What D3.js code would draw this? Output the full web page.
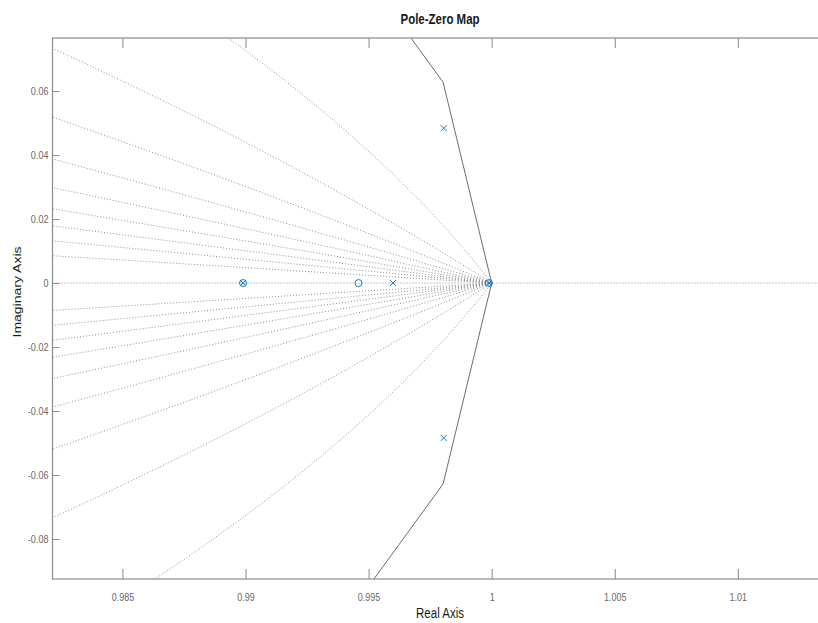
<!DOCTYPE html>
<html>
<head>
<meta charset="utf-8">
<script src="https://cdn.jsdelivr.net/npm/d3@7"></script>
<style>
  html, body { margin: 0; padding: 0; background: #ffffff; }
  svg { display: block; }
  text { font-family: "Liberation Sans", Arial, sans-serif; }
</style>
</head>
<body>
<svg id="chart" width="818" height="623"></svg>
<script>
// ---- data ----
const titleText = "Pole-Zero Map";
const xLabel = "Real Axis";
const yLabel = "Imaginary Axis";
const xTicks = [0.985, 0.99, 0.995, 1, 1.005, 1.01];
const xTickLabels = ["0.985", "0.99", "0.995", "1", "1.005", "1.01"];
const yTicks = [0.06, 0.04, 0.02, 0, -0.02, -0.04, -0.06, -0.08];
const yTickLabels = ["0.06", "0.04", "0.02", "0", "-0.02", "-0.04", "-0.06", "-0.08"];
const xDomain = [0.98216, 1.01367];
const yDomain = [-0.0925, 0.0766];
// poles (x)
const poleRe = [0.9899, 0.99599, 0.99989, 0.99805, 0.99805];
const poleIm = [0, 0, 0, 0.0484, -0.0484];
// zeros (o)
const zeroRe = [0.9899, 0.99459, 0.99989];
const zeroIm = [0, 0, 0];
// z-grid damping ratios
const dampingRatios = [0.1, 0.2, 0.3, 0.4, 0.5, 0.6, 0.7, 0.8, 0.9];
// unit circle drawn as a polygon with this many segments
const circleSegments = 100;

// ---- layout ----
const svg = d3.select("#chart");
const pLeft = 52.5, pRight = 828.2, pTop = 38, pBottom = 579;
const squeeze = 0.82;

const x = d3.scaleLinear().domain(xDomain).range([pLeft, pRight]);
const y = d3.scaleLinear().domain(yDomain).range([pBottom, pTop]);

svg.append("defs").append("clipPath").attr("id", "plotclip")
  .append("rect").attr("x", pLeft).attr("y", pTop)
  .attr("width", pRight - pLeft).attr("height", pBottom - pTop);

const plot = svg.append("g").attr("clip-path", "url(#plotclip)");

const line = d3.line().x(d => x(d[0])).y(d => y(d[1]));

// damping ratio lines
const omegas = d3.range(0, 3000).map(i => i * Math.PI / 2999);
dampingRatios.forEach(z => {
  const wd = Math.sqrt(1 - z * z);
  [1, -1].forEach(sgn => {
    const pts = omegas.map(w => {
      const m = Math.exp(-z * w);
      return [m * Math.cos(wd * w), sgn * m * Math.sin(wd * w)];
    });
    plot.append("path").attr("d", line(pts))
      .attr("fill", "none").attr("stroke", "#8f8f8f")
      .attr("stroke-width", 1).attr("stroke-dasharray", "1,2");
  });
});
// real axis (zeta = 1 and beyond)
plot.append("line")
  .attr("x1", pLeft).attr("x2", pRight)
  .attr("y1", y(0)).attr("y2", y(0))
  .attr("stroke", "#8f8f8f").attr("stroke-width", 1).attr("stroke-dasharray", "1,2");

// unit circle polygon
const circPts = d3.range(-4, 5).map(k => {
  const a = 2 * Math.PI * k / circleSegments;
  return [Math.cos(a), Math.sin(a)];
});
plot.append("path").attr("d", line(circPts))
  .attr("fill", "none").attr("stroke", "#6e6e6e").attr("stroke-width", 1);

// markers
const mColor = "#1a7ac4";
zeroRe.forEach((re, i) => {
  plot.append("circle").attr("cx", x(re)).attr("cy", y(zeroIm[i])).attr("r", 3.5)
    .attr("fill", "none").attr("stroke", mColor).attr("stroke-width", 1);
});
poleRe.forEach((re, i) => {
  const cx = x(re), cy = y(poleIm[i]), s = 3;
  plot.append("path")
    .attr("d", `M${cx - s},${cy - s}L${cx + s},${cy + s}M${cx - s},${cy + s}L${cx + s},${cy - s}`)
    .attr("fill", "none").attr("stroke", mColor).attr("stroke-width", 1);
});

// axes
const axisColor = "#8a8a8a";
const labelColor = "#6a6a6a";

const gx = svg.append("g").attr("transform", `translate(0,${pBottom})`)
  .call(d3.axisBottom(x).tickValues(xTicks).tickFormat((d, i) => xTickLabels[i])
    .tickSizeInner(-10).tickSizeOuter(0).tickPadding(14));
const gxTop = svg.append("g").attr("transform", `translate(0,${pTop})`)
  .call(d3.axisTop(x).tickValues(xTicks).tickFormat("")
    .tickSizeInner(-10).tickSizeOuter(0));
const gy = svg.append("g").attr("transform", `translate(${pLeft},0)`)
  .call(d3.axisLeft(y).tickValues(yTicks).tickFormat((d, i) => yTickLabels[i])
    .tickSizeInner(-7).tickSizeOuter(0).tickPadding(5));

[gx, gxTop, gy].forEach(g => {
  g.select(".domain").remove();
  g.selectAll(".tick line").attr("stroke", axisColor);
  g.selectAll("text").attr("fill", labelColor).attr("font-size", 11)
    .attr("font-family", "Liberation Sans, Arial, sans-serif");
});
gx.selectAll("text").attr("transform", `scale(${squeeze},1)`);
gy.selectAll("text").attr("transform", `scale(${squeeze},1)`);

// box
svg.append("rect").attr("x", pLeft).attr("y", pTop)
  .attr("width", pRight - pLeft).attr("height", pBottom - pTop)
  .attr("fill", "none").attr("stroke", axisColor).attr("stroke-width", 1.2);

// title
svg.append("g").attr("transform", `translate(440,24) scale(${squeeze},1)`)
  .append("text").attr("text-anchor", "middle")
  .attr("font-size", 14).attr("font-weight", "bold").attr("fill", "#1a1a1a")
  .text(titleText);

// x label
svg.append("g").attr("transform", `translate(440,618) scale(${squeeze},1)`)
  .append("text").attr("text-anchor", "middle")
  .attr("font-size", 14).attr("fill", "#1a1a1a")
  .text(xLabel);

// y label
svg.append("g").attr("transform", `translate(21,292) scale(${squeeze},1) rotate(-90)`)
  .append("text").attr("text-anchor", "middle")
  .attr("font-size", 14).attr("fill", "#1a1a1a")
  .text(yLabel);
</script>
</body>
</html>
